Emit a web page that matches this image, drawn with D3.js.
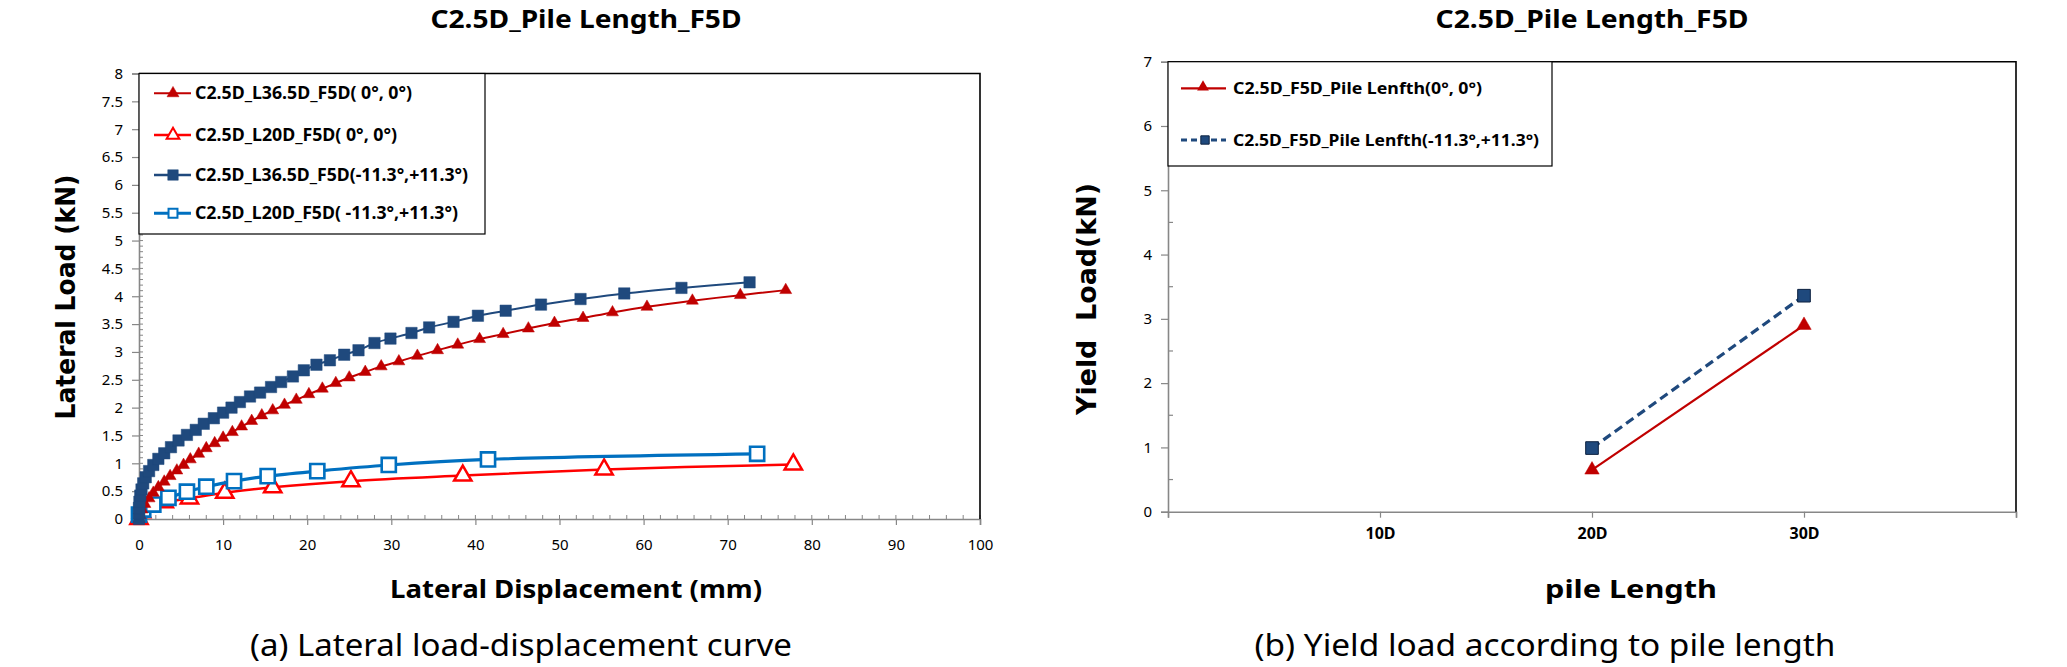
<!DOCTYPE html>
<html><head><meta charset="utf-8">
<script src="https://cdn.jsdelivr.net/npm/d3@7"></script>
<style>body{margin:0;background:#fff}svg{display:block}</style>
</head><body>
<script>
// ---------- DATA (left chart) ----------
const dispL36_0 = [0,0.1,0.35,0.7,1.2,1.7,2.3,3.0,3.7,4.5,5.3,6.1,7.1,8.0,9.0,10.0,11.1,12.2,13.4,14.6,15.9,17.3,18.7,20.2,21.8,23.4,25.0,26.9,28.8,30.9,33.1,35.5,37.9,40.5,43.3,46.3,49.4,52.8,56.3,60.4,65.8,71.5,76.9];
const loadL36_0 = [0,0.07,0.17,0.27,0.37,0.47,0.57,0.67,0.77,0.87,0.97,1.07,1.17,1.27,1.36,1.46,1.56,1.66,1.76,1.86,1.95,2.05,2.14,2.24,2.34,2.44,2.54,2.64,2.74,2.83,2.93,3.03,3.13,3.23,3.32,3.42,3.52,3.61,3.71,3.81,3.92,4.02,4.11];
const dispL20_0 = [0,0.3,1.2,3.0,6.0,10.2,15.9,25.2,38.5,55.3,77.8];
const loadL20_0 = [0,0.12,0.22,0.3,0.37,0.47,0.57,0.68,0.78,0.89,0.98];
const dispL36_11 = [0,0,0,0.05,0.15,0.3,0.5,0.8,1.2,1.7,2.3,3.0,3.8,4.7,5.7,6.75,7.7,8.9,10.0,11.0,12.0,13.2,14.4,15.7,16.9,18.3,19.6,21.1,22.7,24.4,26.1,28.0,29.9,32.4,34.5,37.4,40.3,43.6,47.8,52.5,57.7,64.5,72.6];
const loadL36_11 = [0,0.1,0.2,0.31,0.42,0.53,0.64,0.75,0.86,0.97,1.08,1.18,1.29,1.41,1.51,1.6,1.71,1.81,1.91,2.0,2.1,2.2,2.27,2.37,2.46,2.56,2.67,2.77,2.85,2.95,3.03,3.16,3.24,3.34,3.44,3.54,3.65,3.74,3.85,3.95,4.05,4.15,4.25];
const dispL20_11 = [0,0.5,1.7,3.5,5.7,8.0,11.3,15.3,21.2,29.7,41.5,73.5];
const loadL20_11 = [0.08,0.17,0.26,0.38,0.49,0.58,0.68,0.77,0.86,0.97,1.07,1.17];
const leftLegend = ["C2.5D_L36.5D_F5D( 0°, 0°)","C2.5D_L20D_F5D( 0°, 0°)","C2.5D_L36.5D_F5D(-11.3°,+11.3°)","C2.5D_L20D_F5D( -11.3°,+11.3°)"];
const leftXTicks = [0,10,20,30,40,50,60,70,80,90,100];
const leftYTicks = [0,0.5,1,1.5,2,2.5,3,3.5,4,4.5,5,5.5,6,6.5,7,7.5,8];

// ---------- DATA (right chart) ----------
const pileLengths = [20,30];
const yield00 = [0.65,2.9];
const yield11 = [0.99,3.36];
const rightXTicks = [0,10,20,30,40];
const rightXLabels = ["","10D","20D","30D",""];
const rightYTicks = [0,1,2,3,4,5,6,7];
const rightLegend = ["C2.5D_F5D_Pile Lenfth(0°, 0°)","C2.5D_F5D_Pile Lenfth(-11.3°,+11.3°)"];

const W=2067,H=667;
const svg=d3.select("body").append("svg").attr("width",W).attr("height",H);
svg.append("rect").attr("width",W).attr("height",H).attr("fill","#fff");
const AX="#878787";
const TF="'Noto Sans', 'Open Sans', sans-serif";

function txt(g,s,x,y,opt){
  const t=g.append("text").attr("x",x).attr("y",y).text(s)
    .attr("font-family",opt.family||TF).attr("font-size",opt.size)
    .attr("font-weight",opt.weight||"normal").attr("fill",opt.fill||"#000")
    .attr("text-anchor",opt.anchor||"middle").style("white-space","pre");
  if(opt.len) t.attr("textLength",opt.len).attr("lengthAdjust","spacingAndGlyphs");
  if(opt.rot) t.attr("transform",`rotate(-90,${x},${y})`);
  return t;
}

// ================= LEFT CHART =================
const xL=d3.scaleLinear().domain([0,100]).range([139,980]);
const yL=d3.scaleLinear().domain([0,8]).range([519,73.5]);
const gL=svg.append("g");

gL.append("g").selectAll("line").data(d3.range(0,80).map(i=>i/10)).join("line")
  .attr("x1",xL(0)).attr("x2",xL(0)+4).attr("y1",d=>yL(d)).attr("y2",d=>yL(d)).attr("stroke",AX).attr("stroke-width",1);
gL.append("g").selectAll("line").data(d3.range(0,51).map(i=>i*2)).join("line")
  .attr("x1",d=>xL(d)).attr("x2",d=>xL(d)).attr("y1",yL(0)).attr("y2",yL(0)-4).attr("stroke",AX).attr("stroke-width",1);

const yAxL=d3.axisLeft(yL).tickValues(leftYTicks).tickFormat(d3.format("")).tickSize(7).tickPadding(9);
const gyL=gL.append("g").attr("transform",`translate(${xL(0)},0)`).call(yAxL);
const xAxL=d3.axisBottom(xL).tickValues(leftXTicks).tickSize(6).tickPadding(14);
const gxL=gL.append("g").attr("transform",`translate(0,${yL(0)})`).call(xAxL);
[gyL,gxL].forEach(g=>{g.select(".domain").attr("stroke",AX).attr("stroke-width",1.6);
  g.selectAll(".tick line").attr("stroke",AX).attr("stroke-width",1.2);
  g.selectAll(".tick text").attr("font-family",TF).attr("font-size",15).attr("fill","#000");});
gL.append("path").attr("d",`M${xL(0)},${yL(8)}H${xL(100)}V${yL(0)}`).attr("fill","none").attr("stroke","#000").attr("stroke-width",1.6);

const lineL=d3.line().x(d=>xL(d[0])).y(d=>yL(d[1])).curve(d3.curveCatmullRom.alpha(0.5));
const seriesL=[
  {x:dispL20_0,y:loadL20_0,color:"#FF0000",w:2.5,sym:d3.symbolTriangle,size:130,fill:"#fff",sw:2.5},
  {x:dispL20_11,y:loadL20_11,color:"#0070C0",w:3.2,sym:d3.symbolSquare,size:200,fill:"#fff",sw:2.6},
  {x:dispL36_0,y:loadL36_0,color:"#C00000",w:2,sym:d3.symbolTriangle,size:62,fill:"#C00000",sw:0.5},
  {x:dispL36_11,y:loadL36_11,color:"#1F497D",w:2,sym:d3.symbolSquare,size:130,fill:"#1F497D",sw:0.5},
];
seriesL.forEach(s=>{
  const pts=s.x.map((v,i)=>[v,s.y[i]]);
  gL.append("path").attr("d",lineL(pts)).attr("fill","none").attr("stroke",s.color).attr("stroke-width",s.w);
  gL.append("g").selectAll("path").data(pts).join("path")
    .attr("d",d3.symbol(s.sym,s.size)).attr("transform",d=>`translate(${xL(d[0])},${yL(d[1])})`)
    .attr("fill",s.fill).attr("stroke",s.color).attr("stroke-width",s.sw);
});

gL.append("rect").attr("x",139).attr("y",73.5).attr("width",346).attr("height",160.5).attr("fill","#fff").attr("stroke","#000").attr("stroke-width",1.2);
const legL=[
  {c:"#C00000",sym:d3.symbolTriangle,size:62,fill:"#C00000",w:2,sw:0.5,y:93.3,len:217},
  {c:"#FF0000",sym:d3.symbolTriangle,size:70,fill:"#fff",w:2.5,sw:2,y:135,len:202},
  {c:"#1F497D",sym:d3.symbolSquare,size:110,fill:"#1F497D",w:2.5,sw:0.5,y:175,len:273},
  {c:"#0070C0",sym:d3.symbolSquare,size:80,fill:"#fff",w:3,sw:2,y:213.3,len:263},
];
legL.forEach((l,i)=>{
  gL.append("line").attr("x1",154).attr("x2",191).attr("y1",l.y).attr("y2",l.y).attr("stroke",l.c).attr("stroke-width",l.w);
  gL.append("path").attr("d",d3.symbol(l.sym,l.size)).attr("transform",`translate(173,${l.y})`).attr("fill",l.fill).attr("stroke",l.c).attr("stroke-width",l.sw);
  txt(gL,leftLegend[i],195,l.y+6,{size:17,weight:"bold",anchor:"start",len:l.len});
});

txt(svg,"C2.5D_Pile Length_F5D",586,28,{size:25,weight:"bold",len:311});
txt(svg,"Lateral Displacement (mm)",576,598,{size:25,weight:"bold",len:372});
txt(svg,"Lateral Load (kN)",75,297,{size:26,weight:"900",len:245,rot:true,family:"'DejaVu Sans', sans-serif"});
txt(svg,"(a) Lateral load-displacement curve",521,656,{size:30,weight:"normal",len:542});

// ================= RIGHT CHART =================
const xR=d3.scaleLinear().domain([0,40]).range([1168,2016]);
const yR=d3.scaleLinear().domain([0,7]).range([511.7,61.7]);
const gR=svg.append("g");
gR.append("g").selectAll("line").data([0.5,1.5,2.5,3.5,4.5,5.5,6.5]).join("line")
  .attr("x1",xR(0)).attr("x2",xR(0)+5).attr("y1",d=>yR(d)).attr("y2",d=>yR(d)).attr("stroke",AX).attr("stroke-width",1.2);
const yAxR=d3.axisLeft(yR).tickValues(rightYTicks).tickFormat(d3.format("")).tickSize(7).tickPadding(9);
const gyR=gR.append("g").attr("transform",`translate(${xR(0)},0)`).call(yAxR);
const xAxR=d3.axisBottom(xR).tickValues(rightXTicks).tickFormat((d,i)=>rightXLabels[i]).tickSize(6).tickPadding(10);
const gxR=gR.append("g").attr("transform",`translate(0,${yR(0)})`).call(xAxR);
[gyR,gxR].forEach(g=>{g.select(".domain").attr("stroke",AX).attr("stroke-width",1.6);
  g.selectAll(".tick line").attr("stroke",AX).attr("stroke-width",1.2);
  g.selectAll(".tick text").attr("font-family",TF).attr("font-size",15).attr("fill","#000");});
gxR.selectAll(".tick text").attr("font-weight","bold").attr("font-size",16);
gR.append("path").attr("d",`M${xR(0)},${yR(7)}H${xR(40)}V${yR(0)}`).attr("fill","none").attr("stroke","#000").attr("stroke-width",1.6);

const lineR=d3.line().x(d=>xR(d[0])).y(d=>yR(d[1]));
const p00=pileLengths.map((v,i)=>[v,yield00[i]]);
const p11=pileLengths.map((v,i)=>[v,yield11[i]]);
gR.append("path").attr("d",lineR(p00)).attr("fill","none").attr("stroke","#C00000").attr("stroke-width",2.2);
gR.append("path").attr("d",lineR(p11)).attr("fill","none").attr("stroke","#1F497D").attr("stroke-width",3.2).attr("stroke-dasharray","9,5");
gR.append("g").selectAll("path").data(p00).join("path").attr("d",d3.symbol(d3.symbolTriangle,90))
  .attr("transform",d=>`translate(${xR(d[0])},${yR(d[1])})`).attr("fill","#C00000").attr("stroke","#C00000").attr("stroke-width",0.5);
gR.append("g").selectAll("path").data(p11).join("path").attr("d",d3.symbol(d3.symbolSquare,160))
  .attr("transform",d=>`translate(${xR(d[0])},${yR(d[1])})`).attr("fill","#1F497D").attr("stroke","#0d2240").attr("stroke-width",1);

gR.append("rect").attr("x",1168).attr("y",61.7).attr("width",384).attr("height",104.3).attr("fill","#fff").attr("stroke","#000").attr("stroke-width",1.2);
gR.append("line").attr("x1",1181).attr("x2",1226).attr("y1",88.3).attr("y2",88.3).attr("stroke","#C00000").attr("stroke-width",2.2);
gR.append("path").attr("d",d3.symbol(d3.symbolTriangle,60)).attr("transform","translate(1203,87)").attr("fill","#C00000");
gR.append("line").attr("x1",1181).attr("x2",1226).attr("y1",140).attr("y2",140).attr("stroke","#1F497D").attr("stroke-width",3.2).attr("stroke-dasharray","6,4");
gR.append("path").attr("d",d3.symbol(d3.symbolSquare,70)).attr("transform","translate(1205,140)").attr("fill","#1F497D").attr("stroke","#0d2240").attr("stroke-width",1);
txt(gR,rightLegend[0],1233,94,{size:16,weight:"bold",anchor:"start",len:249});
txt(gR,rightLegend[1],1233,146,{size:16,weight:"bold",anchor:"start",len:306});

txt(svg,"C2.5D_Pile Length_F5D",1592,28,{size:25,weight:"bold",len:313});
txt(svg,"pile Length",1631,598,{size:25,weight:"bold",len:172});
txt(svg,"Yield  Load(kN)",1096,299,{size:27,weight:"900",len:232,rot:true,family:"'DejaVu Sans', sans-serif"});
txt(svg,"(b) Yield load according to pile length",1545,656,{size:30,weight:"normal",len:581});
</script>
</body></html>
